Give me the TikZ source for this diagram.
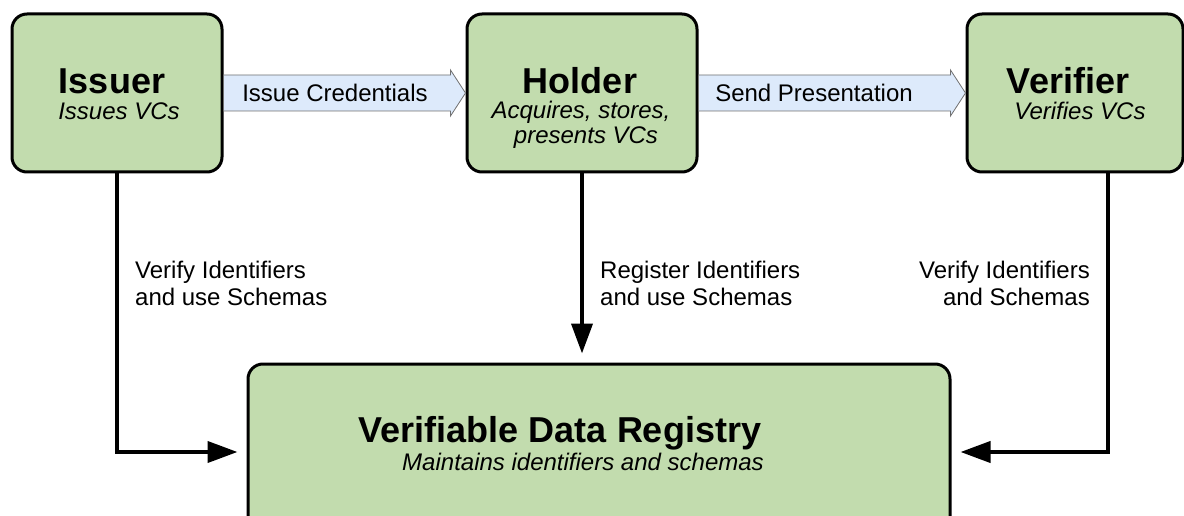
\documentclass[tikz,border=0pt]{standalone}
\usepackage{fontspec}
\setmainfont{Liberation Sans}
\usetikzlibrary{arrows.meta,calc}

\definecolor{boxgreen}{HTML}{C2DCAE}
\definecolor{flowblue}{HTML}{DDEAFB}
\definecolor{flowedge}{HTML}{707070}

\tikzset{
  role/.style={draw=black, line width=3pt, fill=boxgreen, rounded corners=15pt, inner sep=0pt},
  titletext/.style={font=\fontsize{36}{40}\selectfont\bfseries, inner sep=0pt},
  subtext/.style={font=\fontsize{24}{27}\selectfont\itshape, inner sep=0pt, align=center},
  labeltext/.style={font=\fontsize{24}{27}\selectfont, inner sep=0pt},
  blockarrow/.style={draw=flowedge, line width=0.8pt, fill=flowblue},
  link/.style={line width=4pt, -{Triangle[length=30pt,width=21pt]}}
}

\begin{document}
\begin{tikzpicture}[x=1pt, y=-1pt]
  \useasboundingbox (0,0) rectangle (1184,516);
  \clip (0,0) rectangle (1184,516);

  % the three roles
  \node[role, minimum width=210pt, minimum height=158pt] (issuer) at (117,93) {};
  \node[role, minimum width=230pt, minimum height=158pt] (holder) at (582,93) {};
  \node[role, minimum width=216pt, minimum height=158pt] (verifier) at (1075,93) {};

  % the registry
  \node[role, minimum width=702pt, minimum height=176pt] (registry) at (599,452) {};

  % role texts
  \node[titletext] (issuerT) at (112,81) {Issuer};
  \node[subtext] (issuerS) at (119,111) {Issues VCs};
  \node[titletext] (holderT) at (580,81) {Holder};
  \node[subtext] (holderS1) at (581,112) {Acquires, stores,};
  \node[subtext] (holderS2) at (586,138) {presents VCs};
  \node[titletext] (verifierT) at (1068,81) {Verifier};
  \node[subtext] (verifierS) at (1080,111) {Verifies VCs};
  \node[titletext] (registryT) at (560,433) {Verifiable Data Registry};
  \node[subtext] (registryS) at (583,462) {Maintains identifiers and schemas};

  % credential flow arrows
  \draw[blockarrow]
    ($(issuer.east)+(0,-18)$) -- ($(holder.west)+(-15,-18)$) --
    ($(holder.west)+(-15,-23)$) -- (holder.west) --
    ($(holder.west)+(-15,23)$) -- ($(holder.west)+(-15,18)$) --
    ($(issuer.east)+(0,18)$) -- cycle;
  \node[labeltext] (issueL) at (335,93) {Issue Credentials};

  \draw[blockarrow]
    ($(holder.east)+(0,-18)$) -- ($(verifier.west)+(-15,-18)$) --
    ($(verifier.west)+(-15,-23)$) -- (verifier.west) --
    ($(verifier.west)+(-15,23)$) -- ($(verifier.west)+(-15,18)$) --
    ($(holder.east)+(0,18)$) -- cycle;
  \node[labeltext] (sendL) at (814,93) {Send Presentation};

  % registry links
  \draw[link, shorten >=9pt] (issuer.south) |- (registry.west);
  \draw[link, shorten >=9pt] (holder.south) -- (holder.south |- registry.north);
  \draw[link, shorten >=9pt] ([xshift=33pt]verifier.south) |- (registry.east);

  \node[labeltext, align=left, anchor=west] (issuerL) at (135,283) {Verify Identifiers\\and use Schemas};
  \node[labeltext, align=left, anchor=west] (holderL) at (600,283) {Register Identifiers\\and use Schemas};
  \node[labeltext, align=right, anchor=east] (verifierL) at (1090,283) {Verify Identifiers\\and Schemas};
\end{tikzpicture}
\end{document}
